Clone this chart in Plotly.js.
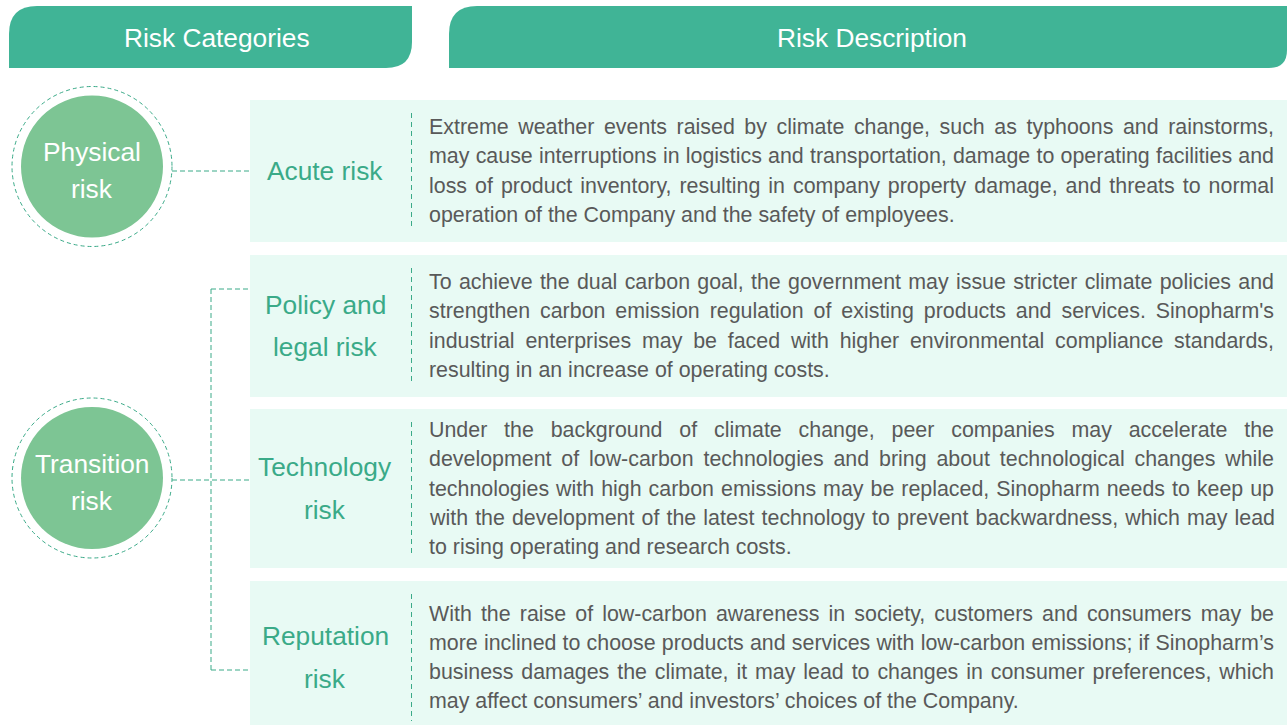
<!DOCTYPE html>
<html>
<head>
<meta charset="utf-8">
<script src="https://cdn.plot.ly/plotly-3.0.1.min.js"></script>
<style>
  html, body { margin: 0; padding: 0; background: #ffffff; }
  #chart { width: 1287px; height: 725px; }
</style>
</head>
<body>
<div id="chart"></div>
<script>
// ---------------- DATA ----------------
const headerLabels = ["Risk Categories", "Risk Description"];

const categoryLabels = [["Physical", "risk"], ["Transition", "risk"]];

const subCategoryLabels = [
  ["Acute risk"],
  ["Policy and", "legal risk"],
  ["Technology", "risk"],
  ["Reputation", "risk"]
];

const descAcute = [
  "Extreme weather events raised by climate change, such as typhoons and rainstorms,",
  "may cause interruptions in logistics and transportation, damage to operating facilities and",
  "loss of product inventory, resulting in company property damage, and threats to normal",
  "operation of the Company and the safety of employees."
];
const descPolicy = [
  "To achieve the dual carbon goal, the government may issue stricter climate policies and",
  "strengthen carbon emission regulation of existing products and services. Sinopharm's",
  "industrial enterprises may be faced with higher environmental compliance standards,",
  "resulting in an increase of operating costs."
];
const descTechnology = [
  "Under the background of climate change, peer companies may accelerate the",
  "development of low-carbon technologies and bring about technological changes while",
  "technologies with high carbon emissions may be replaced, Sinopharm needs to keep up",
  "with the development of the latest technology to prevent backwardness, which may lead",
  "to rising operating and research costs."
];
const descReputation = [
  "With the raise of low-carbon awareness in society, customers and consumers may be",
  "more inclined to choose products and services with low-carbon emissions; if Sinopharm\u2019s",
  "business damages the climate, it may lead to changes in consumer preferences, which",
  "may affect consumers\u2019 and investors\u2019 choices of the Company."
];
const descriptions = [descAcute, descPolicy, descTechnology, descReputation];

// which category each sub-category belongs to
const subCategoryParent = [0, 1, 1, 1];

// ---------------- LAYOUT GEOMETRY ----------------
const W = 1287, H = 725;
const C_HEADER = "#40B496";
const C_CIRCLE = "#7DC594";
const C_BOX = "#E8FAF4";
const C_TEAL = "#3AAA88";
const C_TEXT = "#595959";
const FONT = "Liberation Sans, Arial, sans-serif";

const rows = [ [100, 242], [255, 397], [409, 568], [581, 734] ];
const circles = [ {cx: 92, cy: 166.5}, {cx: 92, cy: 478} ];
const rInner = 71, rOuter = 80;
const boxX0 = 250, boxX1 = W + 2;
const sepX = 411.5;
const textX0 = 428, textX1 = 1273;
const lineH = 29.2;
const subX = 325, subLineH = 42.5;

const shapes = [];
const annotations = [];
const justify = [];

function roundedHeader(x0, x1, y0, y1, rTL, rBR) {
  return "M " + x0 + "," + y1 +
    " L " + x0 + "," + (y0 + rTL) +
    " Q " + x0 + "," + y0 + " " + (x0 + rTL) + "," + y0 +
    " L " + x1 + "," + y0 +
    " L " + x1 + "," + (y1 - rBR) +
    " Q " + x1 + "," + y1 + " " + (x1 - rBR) + "," + y1 + " Z";
}

// headers
shapes.push({type: "path", xref: "x", yref: "y", path: roundedHeader(9, 412, 6, 68, 28, 26),
  fillcolor: C_HEADER, line: {width: 0}});
shapes.push({type: "path", xref: "x", yref: "y", path: roundedHeader(449, 1287, 6, 68, 28, 18),
  fillcolor: C_HEADER, line: {width: 0}});
annotations.push({x: 217, y: 38, text: headerLabels[0], showarrow: false, borderpad: 0,
  font: {family: FONT, size: 26.3, color: "#ffffff"}, xanchor: "center", yanchor: "middle"});
annotations.push({x: 871.5, y: 38, text: headerLabels[1], showarrow: false, borderpad: 0,
  font: {family: FONT, size: 26.3, color: "#ffffff"}, xanchor: "center", yanchor: "middle"});

// boxes, separators, sub-category labels, descriptions
rows.forEach(function (r, i) {
  const y0 = r[0], y1 = r[1];
  shapes.push({type: "rect", xref: "x", yref: "y", x0: boxX0, x1: boxX1, y0: y0, y1: y1,
    fillcolor: C_BOX, line: {width: 0}, layer: "below"});
  const sepTop = y0 + 13, sepBot = Math.min(y1 - 13, H + 5);
  shapes.push({type: "line", xref: "x", yref: "y", x0: sepX, x1: sepX, y0: sepTop, y1: sepBot,
    line: {color: C_TEAL, width: 1, dash: "5px,4px"}});

  const mid = (y0 + Math.min(y1, 734)) / 2;
  const subs = subCategoryLabels[i];
  subs.forEach(function (t, k) {
    const yy = mid + (k - (subs.length - 1) / 2) * subLineH;
    annotations.push({x: subX, y: yy, text: t, showarrow: false, borderpad: 0,
      font: {family: FONT, size: 26.3, color: C_TEAL}, xanchor: "center", yanchor: "middle"});
  });

  const lines = descriptions[i];
  lines.forEach(function (t, k) {
    const yy = mid + (k - (lines.length - 1) / 2) * lineH;
    if (k < lines.length - 1) justify.push(annotations.length);
    annotations.push({x: textX0, y: yy, text: t, showarrow: false, align: "left", borderpad: 0,
      font: {family: FONT, size: 21.4, color: C_TEXT}, xanchor: "left", yanchor: "middle"});
  });
});

// circles and their labels
circles.forEach(function (c, i) {
  shapes.push({type: "circle", xref: "x", yref: "y",
    x0: c.cx - rOuter, x1: c.cx + rOuter, y0: c.cy - rOuter, y1: c.cy + rOuter,
    fillcolor: "rgba(0,0,0,0)", line: {color: C_TEAL, width: 1, dash: "4px,3px"}});
  shapes.push({type: "circle", xref: "x", yref: "y",
    x0: c.cx - rInner, x1: c.cx + rInner, y0: c.cy - rInner, y1: c.cy + rInner,
    fillcolor: C_CIRCLE, line: {width: 0}});
  const labs = categoryLabels[i];
  labs.forEach(function (t, k) {
    const yy = c.cy + 4 + (k - (labs.length - 1) / 2) * 37;
    annotations.push({x: c.cx, y: yy, text: t, showarrow: false, borderpad: 0,
      font: {family: FONT, size: 26.3, color: "#ffffff"}, xanchor: "center", yanchor: "middle"});
  });
});

// connectors
const dashC = {color: C_TEAL, width: 1, dash: "5px,3px"};
// physical -> acute
shapes.push({type: "line", xref: "x", yref: "y", x0: circles[0].cx + rOuter, x1: boxX0,
  y0: 171, y1: 171, line: dashC});
// transition -> trunk
const trunkX = 211;
const childYs = [289, 480, 670];
shapes.push({type: "line", xref: "x", yref: "y", x0: circles[1].cx + rOuter, x1: boxX0,
  y0: childYs[1], y1: childYs[1], line: dashC});
shapes.push({type: "line", xref: "x", yref: "y", x0: trunkX, x1: trunkX,
  y0: childYs[0], y1: childYs[2], line: dashC});
shapes.push({type: "line", xref: "x", yref: "y", x0: trunkX, x1: boxX0,
  y0: childYs[0], y1: childYs[0], line: dashC});
shapes.push({type: "line", xref: "x", yref: "y", x0: trunkX, x1: boxX0,
  y0: childYs[2], y1: childYs[2], line: dashC});

const layout = {
  width: W, height: H,
  margin: {l: 0, r: 0, t: 0, b: 0, pad: 0},
  paper_bgcolor: "#ffffff", plot_bgcolor: "#ffffff",
  xaxis: {range: [0, W], visible: false, fixedrange: true},
  yaxis: {range: [H, 0], visible: false, fixedrange: true},
  showlegend: false,
  shapes: shapes,
  annotations: annotations
};

Plotly.newPlot("chart", [], layout, {displayModeBar: false, staticPlot: true}).then(function (gd) {
  const target = textX1 - textX0;
  justify.forEach(function (idx) {
    const g = gd.querySelector('.annotation[data-index="' + idx + '"]');
    if (!g) return;
    const t = g.querySelector("text.annotation-text");
    if (!t) return;
    const str = t.textContent;
    const spaces = (str.match(/ /g) || []).length;
    const w = t.getComputedTextLength();
    if (spaces > 0 && w < target) {
      t.style.wordSpacing = ((target - w) / spaces) + "px";
    }
  });
});
</script>
</body>
</html>
